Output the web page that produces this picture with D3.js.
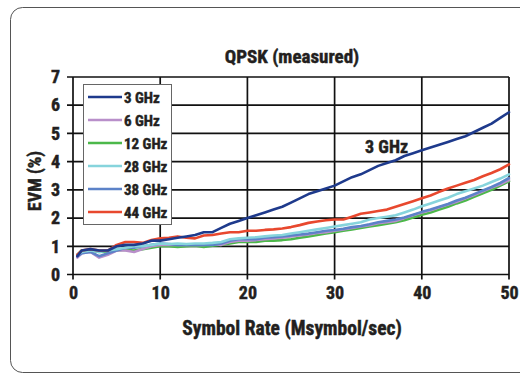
<!DOCTYPE html>
<html><head><meta charset="utf-8">
<script src="https://cdn.jsdelivr.net/npm/d3@7"></script>
<style>
html,body{margin:0;padding:0;background:#fff;}
svg{display:block;}
text{font-family:"Liberation Sans Narrow","Arial Narrow","Roboto Condensed","Liberation Sans",sans-serif;font-weight:bold;fill:#231f20;stroke:#231f20;stroke-width:0.45px;}
</style></head>
<body>
<script>
const xs = [0.5,1,2,3,4,5,6,7,8,9,10,11,12,13,14,15,16,17,18,19,20,21,22,23,24,25,26,27,28,29,30,31,32,33,34,35,36,37,38,39,40,41,42,43,44,45,46,47,48,49,50];
const evm3  = [0.65,0.85,0.9,0.85,0.85,1.0,1.05,1.05,1.1,1.2,1.2,1.25,1.3,1.35,1.4,1.5,1.5,1.65,1.8,1.9,2.0,2.1,2.2,2.3,2.4,2.55,2.7,2.85,2.95,3.05,3.15,3.3,3.45,3.55,3.7,3.85,3.95,4.05,4.2,4.3,4.4,4.5,4.6,4.7,4.8,4.9,5.05,5.2,5.35,5.55,5.75];
const evm6  = [0.6,0.75,0.8,0.6,0.7,0.85,0.85,0.8,0.9,1.0,1.05,1.05,1.05,1.05,1.05,1.05,1.08,1.05,1.15,1.2,1.2,1.22,1.25,1.28,1.3,1.35,1.38,1.42,1.47,1.5,1.55,1.6,1.65,1.7,1.75,1.82,1.85,1.9,2.0,2.1,2.2,2.28,2.38,2.48,2.58,2.7,2.82,2.95,3.08,3.2,3.35];
const evm12 = [0.7,0.85,0.85,0.8,0.82,0.85,0.88,0.85,0.9,0.95,1.0,1.0,0.98,1.0,1.02,0.98,1.02,1.05,1.1,1.15,1.15,1.15,1.2,1.2,1.22,1.25,1.3,1.35,1.4,1.45,1.5,1.55,1.6,1.65,1.7,1.75,1.8,1.85,1.92,2.02,2.12,2.2,2.3,2.4,2.52,2.62,2.75,2.88,3.0,3.15,3.3];
const evm28 = [0.7,0.8,0.85,0.8,0.85,0.9,0.95,1.0,1.0,1.05,1.1,1.08,1.1,1.08,1.1,1.1,1.12,1.15,1.25,1.28,1.3,1.32,1.35,1.38,1.4,1.45,1.5,1.55,1.6,1.65,1.7,1.75,1.8,1.85,1.95,2.0,2.05,2.1,2.2,2.3,2.42,2.52,2.62,2.72,2.85,2.95,3.05,3.15,3.28,3.4,3.55];
const evm38 = [0.65,0.75,0.8,0.65,0.75,0.85,0.95,0.95,1.0,1.05,1.1,1.08,1.05,1.05,1.05,1.05,1.05,1.1,1.2,1.25,1.25,1.25,1.3,1.32,1.35,1.38,1.42,1.45,1.5,1.55,1.58,1.62,1.68,1.72,1.78,1.85,1.9,1.95,2.02,2.12,2.22,2.3,2.4,2.5,2.62,2.72,2.85,2.98,3.1,3.25,3.42];
const evm44 = [0.7,0.85,0.9,0.85,0.85,1.05,1.15,1.15,1.12,1.22,1.28,1.3,1.35,1.3,1.28,1.38,1.4,1.45,1.5,1.5,1.55,1.55,1.58,1.6,1.63,1.68,1.75,1.83,1.88,1.92,1.95,1.95,2.05,2.15,2.2,2.25,2.3,2.4,2.5,2.6,2.7,2.8,2.93,3.05,3.15,3.25,3.35,3.48,3.6,3.73,3.9];
const seriesNames = ["3 GHz","6 GHz","12 GHz","28 GHz","38 GHz","44 GHz"];
const seriesValues = [evm3, evm6, evm12, evm28, evm38, evm44];
const seriesColors = ["#1e3a8c","#b98fca","#4cb84a","#86d4dc","#5c82c8","#e8482e"];
const drawOrder = [2,1,4,3,5,0];
const xTicks = [0,10,20,30,40,50];
const yTicks = [0,1,2,3,4,5,6,7];
const title = "QPSK (measured)";
const xLabel = "Symbol Rate (Msymbol/sec)";
const yLabel = "EVM (%)";
const annotation = {text:"3 GHz", x:33.5, y:4.55};

const W=520,H=375;
const svg=d3.select("body").append("svg").attr("width",W).attr("height",H);
svg.append("rect").attr("x",10.5).attr("y",7.5).attr("width",530).attr("height",365).attr("rx",12)
  .attr("fill","#fff").attr("stroke","#555").attr("stroke-width",1);

const x=d3.scaleLinear().domain([0,50]).range([73,509]);
const y=d3.scaleLinear().domain([0,7]).range([274.5,77]);

const g=svg.append("g");
g.selectAll("line.h").data(yTicks).join("line")
  .attr("x1",x(0)-6).attr("x2",x(50)).attr("y1",d=>y(d)).attr("y2",d=>y(d))
  .attr("stroke","#111").attr("stroke-width",1.7);
g.selectAll("line.v").data(xTicks).join("line")
  .attr("x1",d=>x(d)).attr("x2",d=>x(d)).attr("y1",y(7)).attr("y2",y(0)+5)
  .attr("stroke","#111").attr("stroke-width",1.7);

const xAxis=svg.append("g").attr("transform",`translate(0,${y(0)})`)
  .call(d3.axisBottom(x).tickValues(xTicks).tickSize(0).tickPadding(12).tickFormat(d3.format("d")));
xAxis.select(".domain").remove();
xAxis.selectAll("text").attr("font-size",18).style("font-family",null).attr("fill",null);
const yAxis=svg.append("g").attr("transform",`translate(${x(0)},0)`)
  .call(d3.axisLeft(y).tickValues(yTicks).tickSize(0).tickPadding(13).tickFormat(d3.format("d")));
yAxis.select(".domain").remove();
yAxis.selectAll("text").attr("font-size",18).style("font-family",null).attr("fill",null);

const line=d3.line().x((d,i)=>x(xs[i])).y(d=>y(d)).curve(d3.curveLinear);
drawOrder.forEach(k=>{
  svg.append("path").datum(seriesValues[k]).attr("d",line)
    .attr("fill","none").attr("stroke",seriesColors[k]).attr("stroke-width",2.6)
    .attr("stroke-linejoin","round").attr("stroke-linecap","round");
});

svg.append("text").attr("x",292).attr("y",63).attr("text-anchor","middle").attr("font-size",19).text(title);
svg.append("text").attr("x",292).attr("y",335).attr("text-anchor","middle").attr("font-size",19.5).text(xLabel);
svg.append("text").attr("transform","translate(41,181) rotate(-90)").attr("text-anchor","middle").attr("font-size",18).text(yLabel);
svg.append("text").attr("x",x(annotation.x)).attr("y",y(annotation.y)+7).attr("font-size",18).text(annotation.text);

const lg=svg.append("g");
lg.append("rect").attr("x",83.5).attr("y",84.5).attr("width",88).attr("height",140)
  .attr("fill","#fff").attr("stroke","#666").attr("stroke-width",1);
seriesNames.forEach((n,i)=>{
  const yy=97+i*23;
  lg.append("line").attr("x1",88).attr("x2",122).attr("y1",yy).attr("y2",yy)
    .attr("stroke",seriesColors[i]).attr("stroke-width",2.4);
  lg.append("text").attr("x",124).attr("y",yy+5.5).attr("font-size",15).text(n);
});
</script>
</body></html>
